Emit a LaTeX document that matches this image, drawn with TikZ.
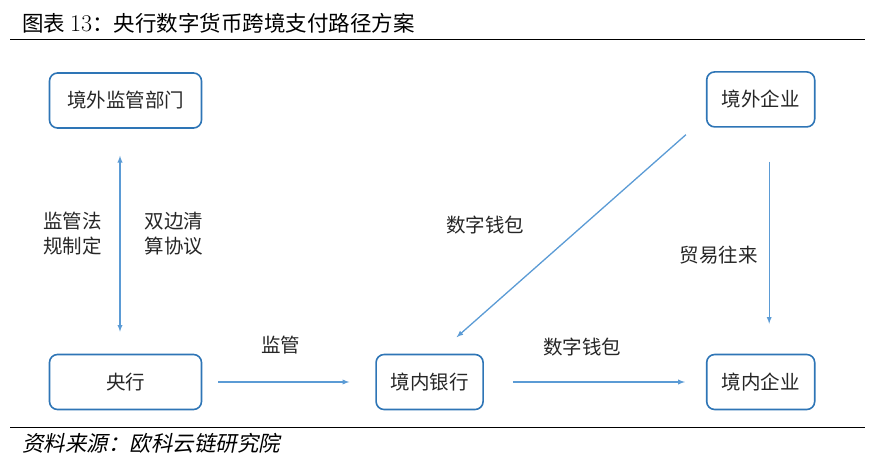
\documentclass[tikz,border=0pt]{standalone}
\usepackage{fontspec}
\newfontfamily\cjk{Noto Sans CJK SC}
\newfontfamily\cjkslant[FakeSlant=0.2]{Noto Sans CJK SC}
\usetikzlibrary{positioning}
\usetikzlibrary{arrows}
\definecolor{boxblue}{HTML}{2E75B6}
\definecolor{lineblue}{HTML}{5B9BD5}
\definecolor{txtgray}{HTML}{262626}

\begin{document}
\begin{tikzpicture}[x=1pt,y=-1pt]
\tikzstyle{main}=[rectangle, rounded corners=8pt, draw=boxblue, line width=1.6pt, minimum height=55pt, text=txtgray, font=\cjk\fontsize{19.5}{22}\selectfont]
\tikzstyle{connect}=[-latex, draw=lineblue, line width=1.3pt]
\tikzstyle{lbl}=[text=txtgray, inner sep=0pt, align=center, font=\cjk\fontsize{19.5}{25}\selectfont]
  \useasboundingbox (0,0) rectangle (884,469);

  % title and rules
  \node[anchor=west, inner sep=0pt] (title) at (22,23) {\fontsize{21.5}{24}\selectfont\cjk 图表 {\rmfamily\fontsize{24}{24}\selectfont 13}：央行数字货币跨境支付路径方案};
  \draw[line width=0.8pt] (10,39) -- (865,39);
  \draw[line width=0.8pt] (10,427) -- (865,427);
  \node[anchor=west, inner sep=0pt] (src) at (22,443) {\fontsize{21.5}{24}\selectfont\cjkslant 资料来源：欧科云链研究院};

  % boxes
  \node[main, minimum width=152pt] (reg) at (125.5,100.5) {境外监管部门};
  \node[main, minimum width=152pt] (cb) at (125.5,382) {央行};
  \node[main, minimum width=107pt] (bank) [right=173pt of cb] {境内银行};
  \node[main, minimum width=108pt] (dcorp) [right=222pt of bank] {境内企业};
  \node[main, minimum width=108pt] (fcorp) [above=226pt of dcorp] {境外企业};

  % connectors
  \draw[connect, latex-latex, shorten <=27pt, shorten >=22pt] ([xshift=-5.5pt]reg.south) -- ([xshift=-5.5pt]cb.north);
  \draw[connect, shorten <=16pt, shorten >=26pt] (cb) -- (bank);
  \draw[connect, shorten <=29pt, shorten >=21pt] (bank) -- (dcorp);
  \draw[connect, shorten <=34pt, shorten >=30pt] ([xshift=8.5pt]fcorp.south) -- ([xshift=8.5pt]dcorp.north);
  \draw[connect] ([xshift=-20pt,yshift=-7pt]fcorp.south west) -- ([xshift=27pt,yshift=16.5pt]bank.north);

  % labels
  \node[lbl] (lawlbl) at (72.5,233.5) {监管法\\规制定};
  \node[lbl] (clrlbl) at (174,233.5) {双边清\\算协议};
  \node[lbl] (suplbl) at (280.5,345) {监管};
  \node[lbl] (wallbl) at (582,347) {数字钱包};
  \node[lbl] (walmid) at (485,225) {数字钱包};
  \node[lbl] (tradelbl) at (718.5,255) {贸易往来};
\end{tikzpicture}
\end{document}
